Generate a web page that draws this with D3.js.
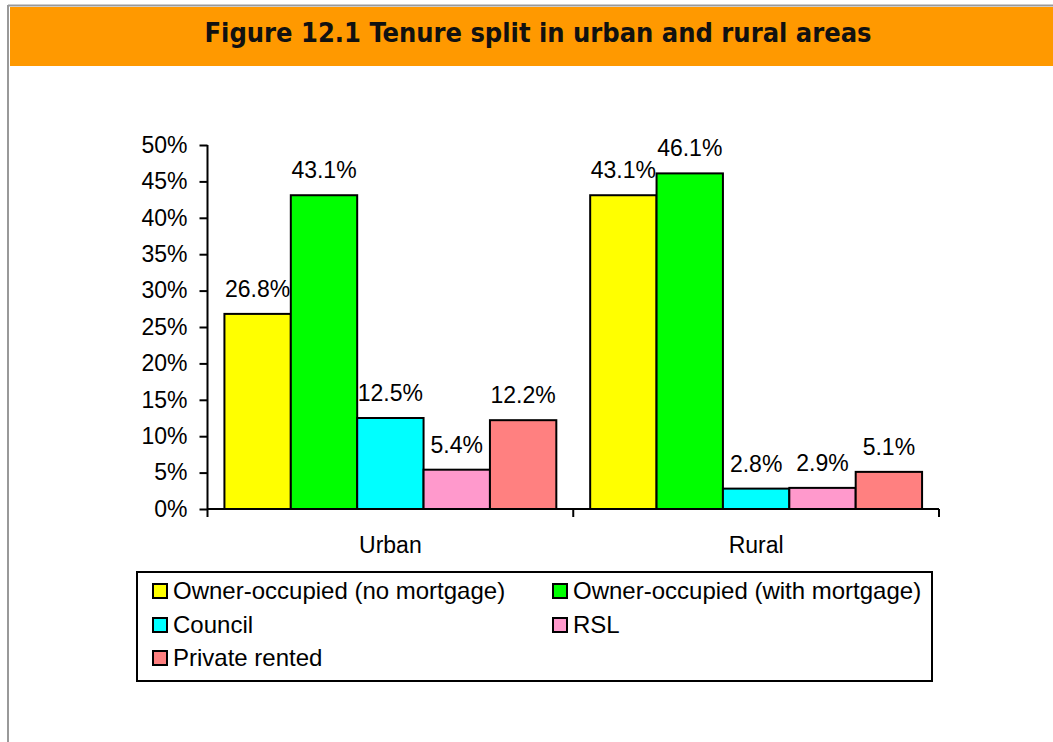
<!DOCTYPE html>
<html>
<head>
<meta charset="utf-8">
<script src="https://cdn.jsdelivr.net/npm/d3@7"></script>
<style>
  html, body { margin: 0; padding: 0; background: #fff; }
  svg { display: block; }
</style>
</head>
<body>
<svg id="chart" width="1053" height="742"></svg>
<script>
// Tenure split data (share of households)
const areas = ["Urban", "Rural"];
const tenures = ["Owner-occupied (no mortgage)", "Owner-occupied (with mortgage)", "Council", "RSL", "Private rented"];
const urbanValues = [26.8, 43.1, 12.5, 5.4, 12.2];
const ruralValues = [43.1, 46.1, 2.8, 2.9, 5.1];
const tenureColors = ["#FFFF00", "#00FF00", "#00FFFF", "#FF99CC", "#FF8080"];
const yTicks = [0, 5, 10, 15, 20, 25, 30, 35, 40, 45, 50];

const seriesByArea = { Urban: urbanValues, Rural: ruralValues };

const svg = d3.select("#chart");
const FONT = "'Liberation Sans', Arial, sans-serif";

// Page frame and title banner
svg.append("line").attr("x1", 8).attr("x2", 1053).attr("y1", 5.5).attr("y2", 5.5)
  .attr("stroke", "#999").attr("stroke-width", 2);
svg.append("line").attr("x1", 8).attr("x2", 8).attr("y1", 5).attr("y2", 742)
  .attr("stroke", "#999").attr("stroke-width", 2);
svg.append("rect").attr("x", 10).attr("y", 7).attr("width", 1043).attr("height", 59)
  .attr("fill", "#FF9900");
svg.append("text")
  .attr("x", 538).attr("y", 42)
  .attr("text-anchor", "middle")
  .attr("font-family", "'DejaVu Sans Condensed', 'DejaVu Sans', sans-serif")
  .attr("font-stretch", "condensed")
  .attr("font-weight", "bold")
  .attr("font-size", 27)
  .attr("textLength", 667)
  .attr("lengthAdjust", "spacingAndGlyphs")
  .attr("fill", "#111")
  .text("Figure 12.1 Tenure split in urban and rural areas");

// Plot area
const plot = { left: 207.5, right: 939, top: 145, bottom: 509 };

const x0 = d3.scaleBand().domain(areas).range([plot.left, plot.right]).paddingInner(0).paddingOuter(0);
const x1 = d3.scaleBand().domain(tenures).range([0, x0.bandwidth()]).paddingOuter(0.255).paddingInner(0);
const y = d3.scaleLinear().domain([0, 50]).range([plot.bottom, plot.top]);

// Y axis
const yAxis = d3.axisLeft(y).tickValues(yTicks).tickFormat(d => d + "%").tickSize(8).tickPadding(12);
const gy = svg.append("g").attr("transform", `translate(${plot.left},0)`).call(yAxis);
gy.select(".domain").attr("stroke", "#000").attr("stroke-width", 2).attr("d", `M0,${plot.top}V${plot.bottom}`);
gy.selectAll(".tick line").attr("stroke", "#000").attr("stroke-width", 2);
gy.selectAll(".tick text").attr("font-family", FONT).attr("font-size", 23).attr("fill", "#000");

// Bars
const groups = svg.append("g").selectAll("g")
  .data(areas).join("g")
  .attr("transform", d => `translate(${x0(d)},0)`);

groups.selectAll("rect")
  .data(area => seriesByArea[area].map((v, i) => ({ tenure: tenures[i], value: v, color: tenureColors[i] })))
  .join("rect")
  .attr("x", d => x1(d.tenure))
  .attr("y", d => y(d.value))
  .attr("width", x1.bandwidth())
  .attr("height", d => y(0) - y(d.value))
  .attr("fill", d => d.color)
  .attr("stroke", "#000")
  .attr("stroke-width", 2);

groups.selectAll("text")
  .data(area => seriesByArea[area].map((v, i) => ({ tenure: tenures[i], value: v })))
  .join("text")
  .attr("x", d => x1(d.tenure) + x1.bandwidth() / 2)
  .attr("y", d => y(d.value) - 17)
  .attr("text-anchor", "middle")
  .attr("font-family", FONT)
  .attr("font-size", 23)
  .attr("fill", "#000")
  .text(d => d.value.toFixed(1) + "%");

// X axis with category boundary ticks
const gx = svg.append("g");
gx.append("line").attr("x1", plot.left).attr("x2", plot.right).attr("y1", plot.bottom).attr("y2", plot.bottom)
  .attr("stroke", "#000").attr("stroke-width", 2);
const boundaries = areas.map(a => x0(a)).concat([x0(areas[areas.length - 1]) + x0.bandwidth()]);
gx.selectAll("line.tick").data(boundaries).join("line").attr("class", "tick")
  .attr("x1", d => d).attr("x2", d => d).attr("y1", plot.bottom).attr("y2", plot.bottom + 8)
  .attr("stroke", "#000").attr("stroke-width", 2);
gx.selectAll("text").data(areas).join("text")
  .attr("x", d => x0(d) + x0.bandwidth() / 2)
  .attr("y", 553)
  .attr("text-anchor", "middle")
  .attr("font-family", FONT)
  .attr("font-size", 23)
  .attr("fill", "#000")
  .text(d => d);

// Legend
const legend = svg.append("g");
legend.append("rect").attr("x", 137).attr("y", 572).attr("width", 795).attr("height", 109)
  .attr("fill", "#fff").attr("stroke", "#000").attr("stroke-width", 2);
const legendCols = [153, 553];
const legendRows = [591, 625, 658];
const items = legend.selectAll("g.item").data(tenures).join("g").attr("class", "item")
  .attr("transform", (d, i) => `translate(${legendCols[i % 2]},${legendRows[Math.floor(i / 2)]})`);
items.append("rect").attr("x", 0).attr("y", -7).attr("width", 14).attr("height", 14)
  .attr("fill", (d, i) => tenureColors[i]).attr("stroke", "#000").attr("stroke-width", 2);
items.append("text").attr("x", 20).attr("y", 8)
  .attr("font-family", FONT).attr("font-size", 24).attr("fill", "#000")
  .text(d => d);
</script>
</body>
</html>
